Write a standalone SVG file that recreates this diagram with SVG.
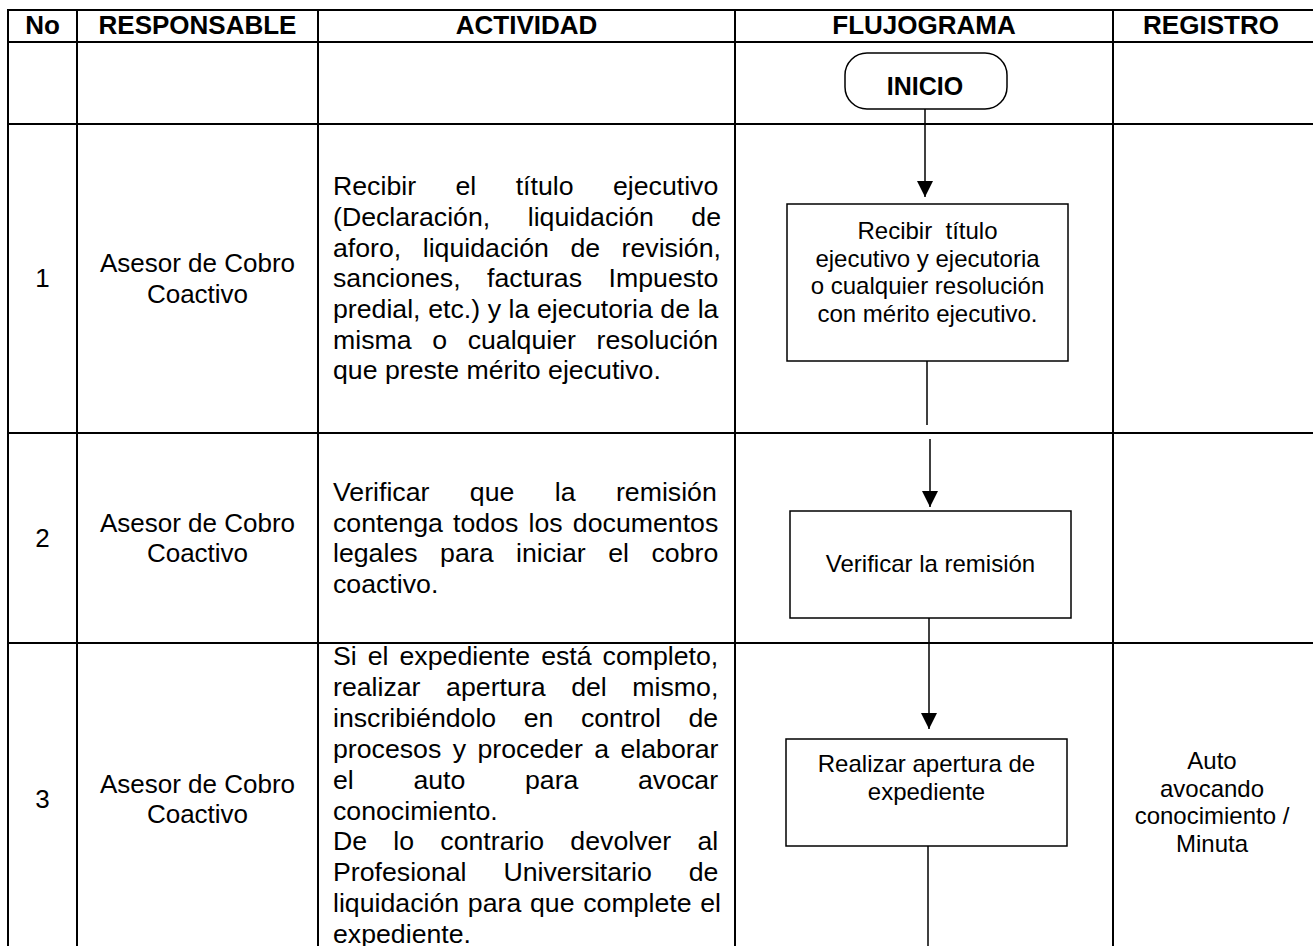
<svg xmlns="http://www.w3.org/2000/svg" width="1313" height="946" viewBox="0 0 1313 946">
<style>
text { font-family: "Liberation Sans", Arial, sans-serif; fill: #000; }
.h { font-size: 26px; font-weight: bold; text-anchor: middle; }
.c { font-size: 26.7px; }
.m { font-size: 26px; text-anchor: middle; }
.b { font-size: 24px; text-anchor: middle; }
.st { font-size: 25px; font-weight: bold; text-anchor: middle; }
.grid line { stroke: #000; stroke-width: 2; }
.node rect { fill: #fff; stroke: #000; stroke-width: 1.5; }
.conn line { stroke: #000; stroke-width: 1.5; }
</style>
<defs>
<marker id="arr" markerUnits="userSpaceOnUse" markerWidth="16" markerHeight="16" refX="16" refY="8" orient="auto">
<path d="M0,0 L16,8 L0,16 z" fill="#000"/>
</marker>
</defs>
<rect x="0" y="0" width="1313" height="946" fill="#fff"/>

<g id="table" class="grid">
<line x1="7" y1="10" x2="1313" y2="10"/>
<line x1="7" y1="42" x2="1313" y2="42"/>
<line x1="7" y1="124" x2="1313" y2="124"/>
<line x1="7" y1="433" x2="1313" y2="433"/>
<line x1="7" y1="643" x2="1313" y2="643"/>
<line x1="8" y1="9" x2="8" y2="946"/>
<line x1="77" y1="9" x2="77" y2="946"/>
<line x1="318" y1="9" x2="318" y2="946"/>
<line x1="735" y1="9" x2="735" y2="946"/>
<line x1="1113" y1="9" x2="1113" y2="946"/>
</g>

<g id="headers">
<text class="h" x="42.5" y="34">No</text>
<text class="h" x="197.5" y="34">RESPONSABLE</text>
<text class="h" x="526.5" y="34">ACTIVIDAD</text>
<text class="h" x="924" y="34">FLUJOGRAMA</text>
<text class="h" x="1211" y="34">REGISTRO</text>
</g>

<g id="numbers">
<text class="m" x="42.5" y="287">1</text>
<text class="m" x="42.5" y="547">2</text>
<text class="m" x="42.5" y="808">3</text>
</g>

<g id="responsables">
<text class="m" x="197.5" y="272">Asesor de Cobro</text>
<text class="m" x="197.5" y="302.6">Coactivo</text>
<text class="m" x="197.5" y="531.5">Asesor de Cobro</text>
<text class="m" x="197.5" y="562">Coactivo</text>
<text class="m" x="197.5" y="793">Asesor de Cobro</text>
<text class="m" x="197.5" y="823">Coactivo</text>
</g>

<g id="actividad1">
<text class="c" x="333" y="195" word-spacing="32">Recibir el título ejecutivo</text>
<text class="c" x="333" y="226" word-spacing="30.1">(Declaración, liquidación de</text>
<text class="c" x="333" y="257" word-spacing="14.1">aforo, liquidación de revisión,</text>
<text class="c" x="333" y="287" word-spacing="19.1">sanciones, facturas Impuesto</text>
<text class="c" x="333" y="318" word-spacing="0.2">predial, etc.) y la ejecutoria de la</text>
<text class="c" x="333" y="349" word-spacing="13.2">misma o cualquier resolución</text>
<text class="c" x="333" y="379">que preste mérito ejecutivo.</text>
</g>

<g id="actividad2">
<text class="c" x="333" y="501" word-spacing="33">Verificar que la remisión</text>
<text class="c" x="333" y="531.5" word-spacing="2.8">contenga todos los documentos</text>
<text class="c" x="333" y="562" word-spacing="15.1">legales para iniciar el cobro</text>
<text class="c" x="333" y="593">coactivo.</text>
</g>

<g id="actividad3">
<text class="c" x="333" y="665" word-spacing="3.6">Si el expediente está completo,</text>
<text class="c" x="333" y="696" word-spacing="18.2">realizar apertura del mismo,</text>
<text class="c" x="333" y="727" word-spacing="20.1">inscribiéndolo en control de</text>
<text class="c" x="333" y="758" word-spacing="4">procesos y proceder a elaborar</text>
<text class="c" x="333" y="789" word-spacing="52.2">el auto para avocar</text>
<text class="c" x="333" y="820">conocimiento.</text>
<text class="c" x="333" y="850" word-spacing="18.8">De lo contrario devolver al</text>
<text class="c" x="333" y="881" word-spacing="29.5">Profesional Universitario de</text>
<text class="c" x="333" y="912" word-spacing="1.3">liquidación para que complete el</text>
<text class="c" x="333" y="943">expediente.</text>
</g>

<g id="registro3">
<text class="b" x="1212" y="769">Auto</text>
<text class="b" x="1212" y="796.6">avocando</text>
<text class="b" x="1212" y="824.2">conocimiento /</text>
<text class="b" x="1212" y="851.8">Minuta</text>
</g>

<g id="connectors" class="conn">
<line id="c1" x1="925" y1="109" x2="925" y2="197" marker-end="url(#arr)"/>
<line id="c2a" x1="927" y1="361" x2="927" y2="425"/>
<line id="c2b" x1="930" y1="439" x2="930" y2="507" marker-end="url(#arr)"/>
<line id="c3" x1="929" y1="618" x2="929" y2="729" marker-end="url(#arr)"/>
<line id="c4" x1="928" y1="846" x2="928" y2="946"/>
</g>

<g id="inicio" class="node">
<rect x="845" y="53" width="162" height="56" rx="22" ry="22"/>
<text class="st" x="925" y="95">INICIO</text>
</g>

<g id="paso1" class="node">
<rect x="787" y="204" width="281" height="157"/>
<text class="b" x="927.5" y="239" style="white-space:pre">Recibir  título</text>
<text class="b" x="927.5" y="266.6">ejecutivo y ejecutoria</text>
<text class="b" x="927.5" y="294.2">o cualquier resolución</text>
<text class="b" x="927.5" y="321.8">con mérito ejecutivo.</text>
</g>

<g id="paso2" class="node">
<rect x="790" y="511" width="281" height="107"/>
<text class="b" x="930.5" y="572">Verificar la remisión</text>
</g>

<g id="paso3" class="node">
<rect x="786" y="739" width="281" height="107"/>
<text class="b" x="926.5" y="772">Realizar apertura de</text>
<text class="b" x="926.5" y="799.6">expediente</text>
</g>
</svg>
